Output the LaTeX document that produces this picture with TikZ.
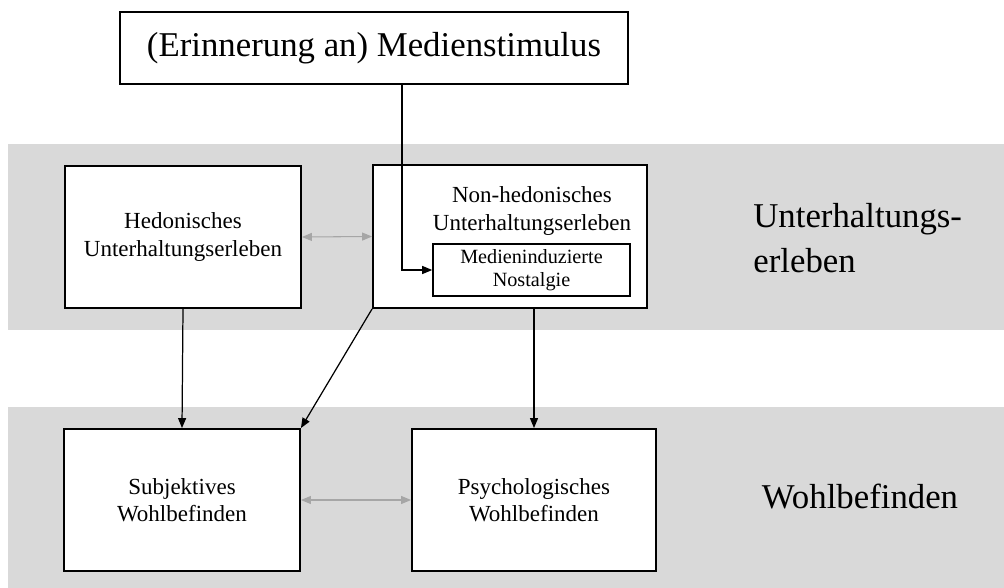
\documentclass[tikz,border=0pt]{standalone}
\usepackage{fontspec}
\setmainfont{Liberation Serif}
\usetikzlibrary{arrows.meta,positioning}
\definecolor{band}{HTML}{D9D9D9}
\definecolor{lightarrow}{HTML}{A6A6A6}

\begin{document}
\begin{tikzpicture}[
  x=0.02cm,y=-0.02cm,
  box/.style={draw=black,line width=1.1pt,fill=white,align=center,inner sep=0pt,font=\fontsize{13.1}{15.5}\selectfont},
  inner/.style={box,line width=0.9pt,font=\fontsize{11.5}{13}\selectfont},
  tag/.style={align=left,inner sep=0pt,font=\fontsize{19.8}{25.5}\selectfont},
  arr/.style={-{Triangle[length=2mm,width=1.6mm]},line width=0.7pt},
  link/.style={{Triangle[length=2mm,width=1.6mm]}-{Triangle[length=2mm,width=1.6mm]},line width=0.6pt,draw=lightarrow}
]
\useasboundingbox[fill=white] (0,0) rectangle (1004,588);
% gray bands
\fill[band] (8,144) rectangle (1004,330);
\fill[band] (8,407) rectangle (1004,588);

\node[box,minimum width=10.16cm,minimum height=1.44cm,font=\fontsize{19.8}{23}\selectfont] (stim) at (374,48) {(Erinnerung an) Medienstimulus};
\node[box,minimum width=4.72cm,minimum height=2.84cm] (hed) at (183,237) {Hedonisches\\Unterhaltungserleben};
\node[box,minimum width=5.48cm,minimum height=2.86cm] (nonhed) at (510,236.5) {};
\node[align=center,inner sep=0pt,font=\fontsize{13.1}{16}\selectfont] (nonhedtext) at (532,211) {Non-hedonisches\\Unterhaltungserleben};
\node[inner,minimum width=3.94cm,minimum height=1.04cm] (nost) at (531.5,270) {Medieninduzierte\\Nostalgie};
\node[box,minimum width=4.72cm,minimum height=2.84cm] (subj) at (182,500) {Subjektives\\Wohlbefinden};
\node[box,minimum width=4.88cm,minimum height=2.84cm] (psych) at (534,500) {Psychologisches\\Wohlbefinden};

\node[tag,anchor=north west] (unterh) at (753,203) {Unterhaltungs-\\erleben};
\node[tag] (wohl) at (860,497) {Wohlbefinden};

\coordinate (knee) at (402,272);
\draw[arr] (stim.south -| knee) |- (nost.west);
\draw[link] (hed.east) -- (nonhed.west);
\draw[link] (subj.east) -- (psych.west);
\draw[arr] (hed.south) -- (subj.north);
\draw[arr] (nonhed.south west) -- (subj.north east);
\draw[arr] (psych.north |- nonhed.south) -- (psych.north);
\end{tikzpicture}
\end{document}
